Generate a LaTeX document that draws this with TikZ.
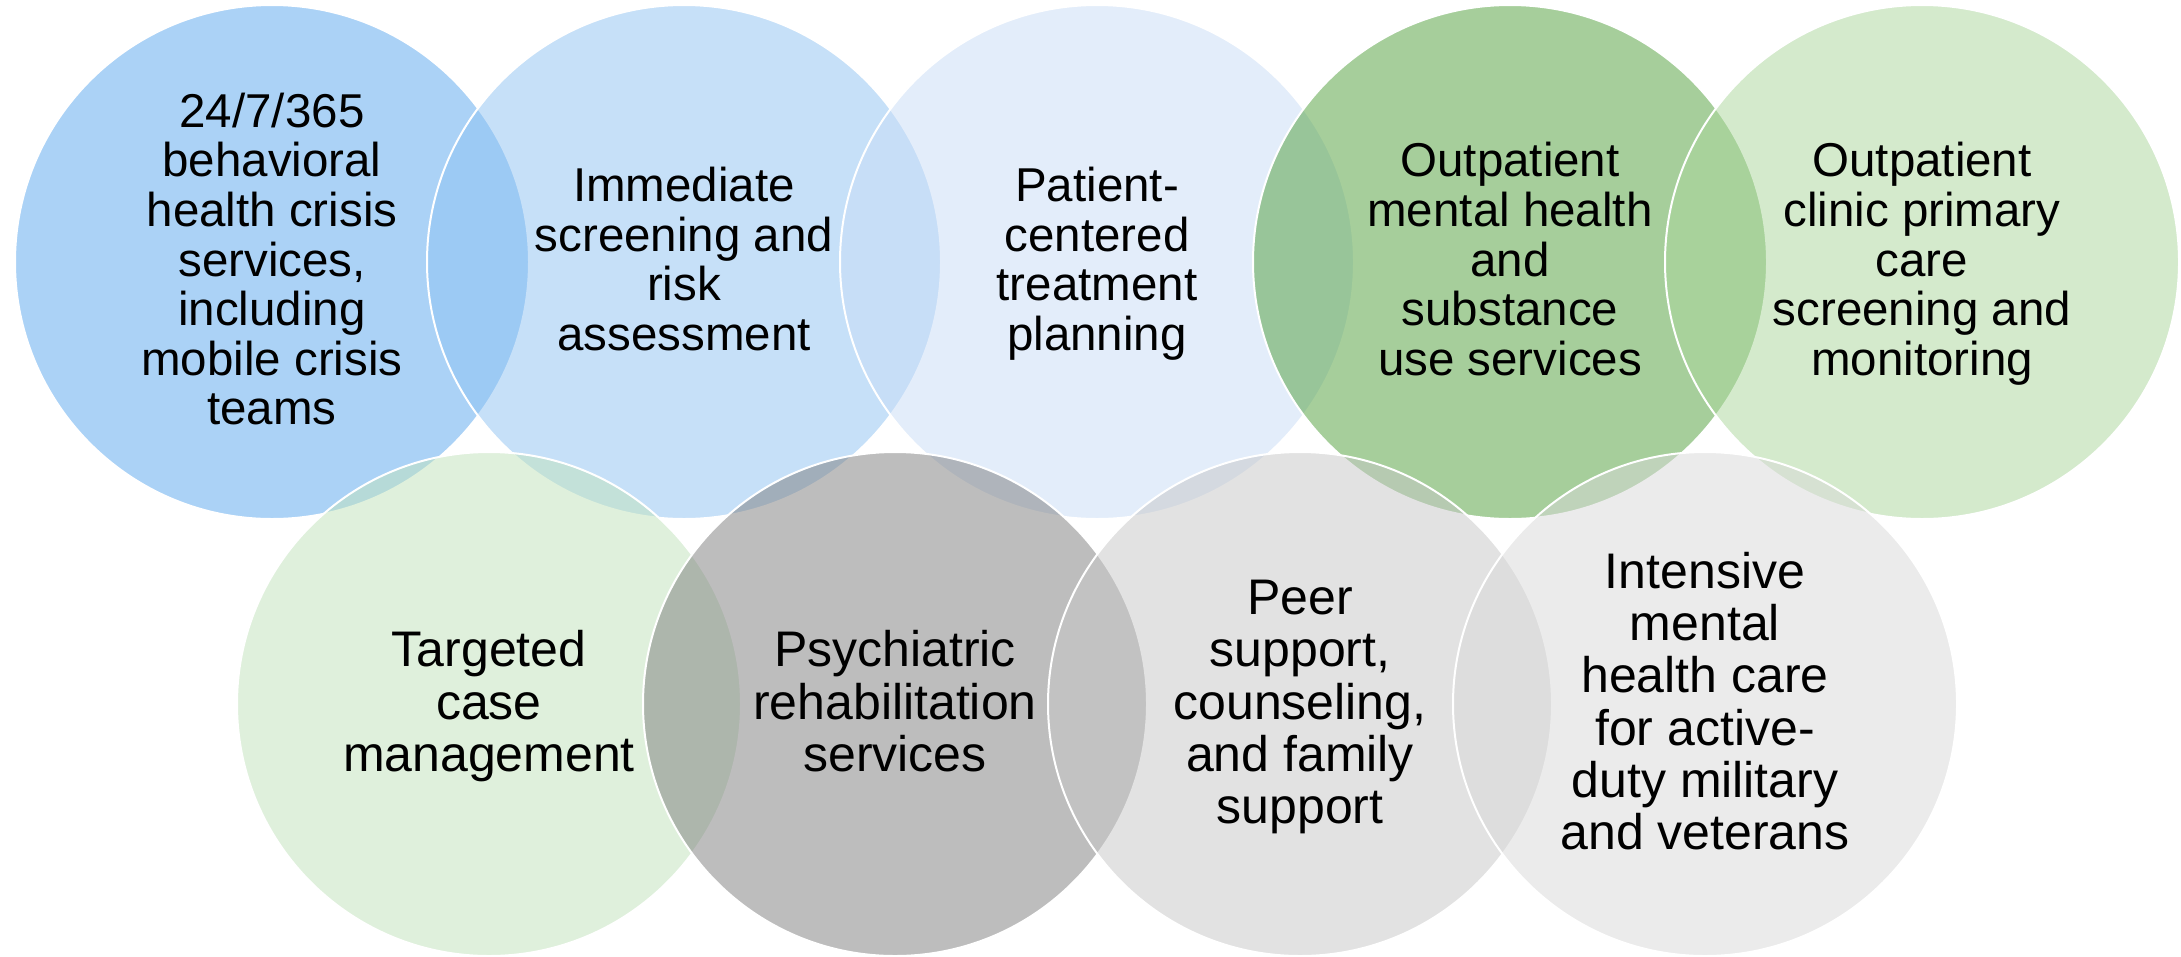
\documentclass[tikz,border=0pt]{standalone}
\usepackage{fontspec}
\setmainfont{Liberation Sans}
\definecolor{kA}{RGB}{89,167,239}
\definecolor{kB}{RGB}{143,195,243}
\definecolor{kC}{RGB}{201,221,247}
\definecolor{kD}{RGB}{79,159,57}
\definecolor{kE}{RGB}{171,215,155}
\definecolor{kF}{RGB}{193,227,187}
\definecolor{kG}{RGB}{125,125,125}
\definecolor{kH}{RGB}{199,199,199}
\definecolor{kI}{RGB}{217,217,217}
\newcommand\stTop{\rule[-10.8pt]{0pt}{49.6pt}}
\newcommand\stBot{\rule[-11.1pt]{0pt}{52.2pt}}
\begin{document}
\begin{tikzpicture}[x=1pt,y=-1pt,
  bigring/.style={circle, inner sep=0pt, minimum size=514pt, fill opacity=0.5, draw=white, line width=2pt},
  smallring/.style={circle, inner sep=0pt, minimum size=504pt, fill opacity=0.5, draw=white, line width=2pt},
  toptext/.style={align=center, inner sep=0pt, font=\fontsize{47.5pt}{49.6pt}\selectfont},
  bottext/.style={align=center, inner sep=0pt, font=\fontsize{50pt}{52.2pt}\selectfont}]
\useasboundingbox (0,0) rectangle (2181,956);
\fill[white] (0,0) rectangle (2181,956);
% top row
\node[bigring, fill=kA] (c1) at (272,262) {};
\node[bigring, fill=kB] (c2) at (684,262) {};
\node[bigring, fill=kC] (c3) at (1097,262) {};
\node[bigring, fill=kD] (c4) at (1510,262) {};
\node[bigring, fill=kE] (c5) at (1922,262) {};
% bottom row
\node[smallring, fill=kF] (c6) at (489,704) {};
\node[smallring, fill=kG] (c7) at (895,704) {};
\node[smallring, fill=kH] (c8) at (1300,704) {};
\node[smallring, fill=kI] (c9) at (1705,704) {};
% texts
\node[toptext] (t1) at (c1.center) {\stTop 24/7/365\\\stTop behavioral\\\stTop health crisis\\\stTop services,\\\stTop including\\\stTop mobile crisis\\\stTop teams};
\node[toptext] (t2) at (c2.center) {\stTop Immediate\\\stTop screening and\\\stTop risk\\\stTop assessment};
\node[toptext] (t3) at (c3.center) {\stTop Patient-\\\stTop centered\\\stTop treatment\\\stTop planning};
\node[toptext] (t4) at (c4.center) {\stTop Outpatient\\\stTop mental health\\\stTop and\\\stTop substance\\\stTop use services};
\node[toptext] (t5) at (c5.center) {\stTop Outpatient\\\stTop clinic primary\\\stTop care\\\stTop screening and\\\stTop monitoring};
\node[bottext] (t6) at (c6.center) {\stBot Targeted\\\stBot case\\\stBot management};
\node[bottext] (t7) at (c7.center) {\stBot Psychiatric\\\stBot rehabilitation\\\stBot services};
\node[bottext] (t8) at (c8.center) {\stBot Peer\\\stBot support,\\\stBot counseling,\\\stBot and family\\\stBot support};
\node[bottext] (t9) at (c9.center) {\stBot Intensive\\\stBot mental\\\stBot health care\\\stBot for active-\\\stBot duty military\\\stBot and veterans};
\end{tikzpicture}
\end{document}
